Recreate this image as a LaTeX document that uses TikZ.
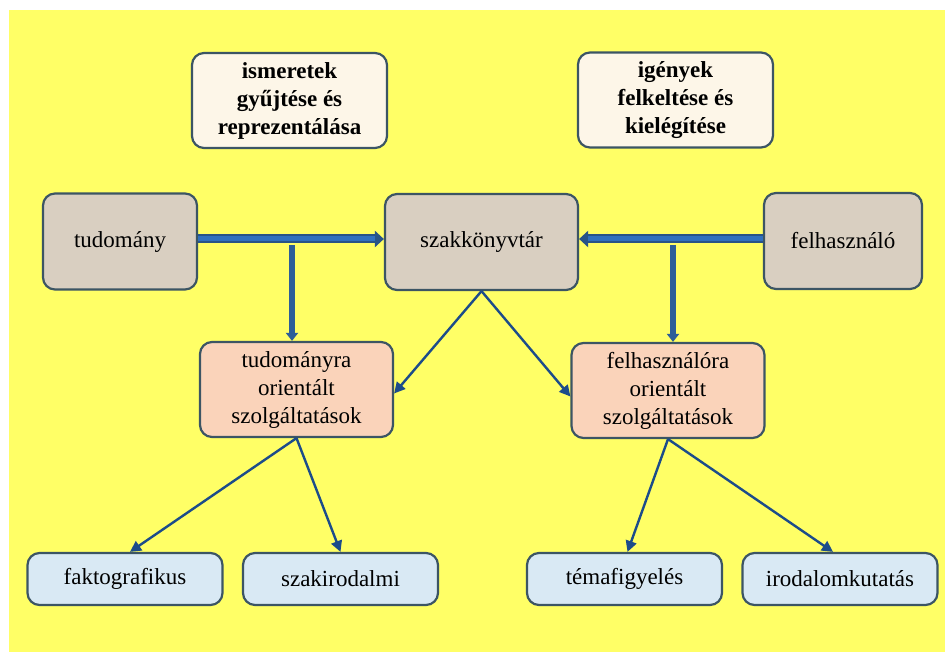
\documentclass[tikz,border=0pt]{standalone}
\usepackage{fontspec}
\setmainfont{Liberation Serif}
\usetikzlibrary{arrows.meta}
\definecolor{bgyellow}{RGB}{255,255,102}
\definecolor{creamfill}{RGB}{253,246,232}
\definecolor{tanfill}{RGB}{217,207,193}
\definecolor{peachfill}{RGB}{250,211,186}
\definecolor{bluefill}{RGB}{217,233,244}
\definecolor{boxline}{RGB}{60,85,100}
\definecolor{thickdark}{RGB}{40,84,136}
\definecolor{thickblue}{RGB}{48,112,190}
\definecolor{vertblue}{RGB}{45,95,152}
\definecolor{thinblue}{RGB}{28,76,138}
\tikzset{
  boxbase/.style={draw=boxline, line width=2.2pt, rounded corners=12pt, align=center,
    inner sep=0pt, font=\rmfamily\fontsize{23}{28}\selectfont},
  topbox/.style={boxbase, fill=creamfill, minimum width=195pt, minimum height=95pt,
    font=\rmfamily\fontsize{23}{28}\selectfont\bfseries},
  tanbox/.style={boxbase, fill=tanfill, minimum height=96pt},
  peachbox/.style={boxbase, fill=peachfill, minimum width=193pt, minimum height=95pt},
  leafbox/.style={boxbase, fill=bluefill, minimum width=195pt, minimum height=52pt},
  thickouter/.style={draw=thickdark, line width=9pt, -{Triangle[length=9pt,width=16pt]}},
  thickinner/.style={draw=thickblue, line width=5pt, shorten >=9pt},
  vertarrow/.style={draw=vertblue, line width=6pt, -{Triangle[length=8pt,width=12pt]}},
  thinarrow/.style={draw=thinblue, line width=2.4pt, -{Triangle[length=11pt,width=11pt]}}
}
\begin{document}
\begin{tikzpicture}[x=1pt,y=-1pt]
\useasboundingbox (0,0) rectangle (945,652);
\fill[white] (0,0) rectangle (945,652);
\fill[bgyellow] (9,10) rectangle (945,652);

\node[topbox] (ism) at (289.5,100.5) {ismeretek\\gyűjtése és\\reprezentálása};
\node[topbox] (igeny) at (675.5,100) {igények\\felkeltése és\\kielégítése};

\node[tanbox, minimum width=154pt] (tud) at (120,241.5) {tudomány};
\node[tanbox, minimum width=193pt] (szak) at (481.5,242) {szakkönyvtár};
\node[tanbox, minimum width=158pt] (felh) at (843,241) {felhasználó};

\node[peachbox] (tor) at (296.5,389.5) {tudományra\\orientált\\szolgáltatások};
\node[peachbox] (for) at (668,390.5) {felhasználóra\\orientált\\szolgáltatások};

\node[leafbox] (fakt) at (125,579) {faktografikus};
\node[leafbox] (szaki) at (340.5,579) {szakirodalmi};
\node[leafbox] (tema) at (624.5,579) {témafigyelés};
\node[leafbox] (irod) at (840,579) {irodalomkutatás};

% thick arrows
\coordinate (jl) at (292,239);
\coordinate (jr) at (673,239);
\coordinate (vl) at (292,245);
\coordinate (vr) at (673,245);
\draw[thickouter] (tud.east |- jl) -- (szak.west |- jl);
\draw[thickinner] (tud.east |- jl) -- (szak.west |- jl);
\draw[thickouter] (felh.west |- jr) -- (szak.east |- jr);
\draw[thickinner] (felh.west |- jr) -- (szak.east |- jr);
\draw[vertarrow] (vl) -- (vl |- tor.north);
\draw[vertarrow] (vr) -- (vr |- for.north);

% thin arrows
\draw[thinarrow] (szak.south) -- ([yshift=-4pt]tor.east);
\draw[thinarrow] (szak.south) -- ([yshift=-6pt]for.west);
\draw[thinarrow] (tor.south) -- ([xshift=5pt]fakt.north);
\draw[thinarrow] (tor.south) -- ([xshift=0pt]szaki.north);
\draw[thinarrow] (for.south) -- ([xshift=3pt]tema.north);
\draw[thinarrow] (for.south) -- ([xshift=-7pt]irod.north);
\end{tikzpicture}
\end{document}
